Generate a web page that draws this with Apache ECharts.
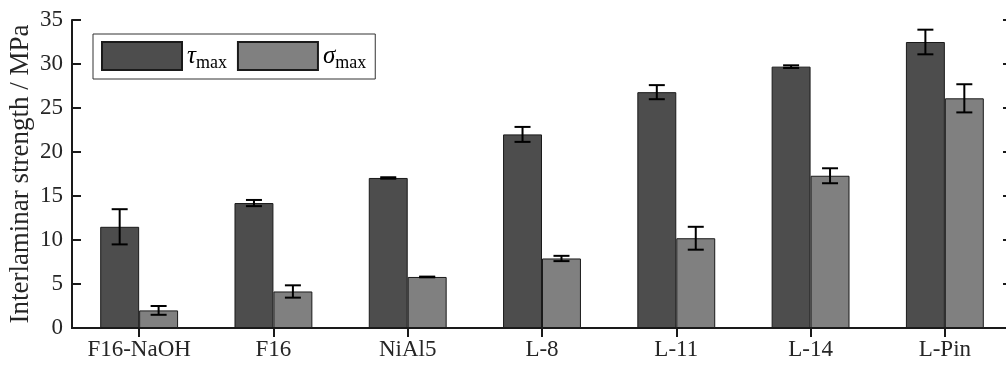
<!DOCTYPE html>
<html lang="en">
<head>
  <meta charset="UTF-8">
  <title>Interlaminar strength</title>
  <script src="https://cdn.jsdelivr.net/npm/echarts@6/dist/echarts.min.js"></script>
  <style>
    html, body { margin: 0; padding: 0; background: #fff; }
  </style>
</head>
<body>
  <div id="main" style="width: 1006px;height:367px;"></div>
  <script>
    // data
    var categories = ['F16-NaOH', 'F16', 'NiAl5', 'L-8', 'L-11', 'L-14', 'L-Pin'];
    var tauMax = [11.5, 14.2, 17.05, 22.0, 26.8, 29.7, 32.5];
    var tauErr = [2.0, 0.35, 0.08, 0.85, 0.8, 0.15, 1.4];
    var sigmaMax = [2.0, 4.15, 5.8, 7.9, 10.2, 17.3, 26.1];
    var sigmaErr = [0.5, 0.7, 0.04, 0.3, 1.3, 0.85, 1.6];

    var catGap = 0.42;
    var font = 'Liberation Serif';

    var myChart = echarts.init(document.getElementById('main'));

    // error bar for one of the two bars of a group (side -1 left, +1 right)
    function errorSeries(values, errs, side) {
      var rows = values.map(function (v, i) { return [i, v, errs[i]]; });
      return {
        type: 'custom',
        z: 10,
        silent: true,
        data: rows,
        encode: { x: 0, y: 1 },
        renderItem: function (params, api) {
          var i = api.value(0);
          var v = api.value(1);
          var e = api.value(2);
          var band = api.size([1, 0])[0];
          var barW = band * (1 - catGap) / 2;
          var top = api.coord([i, v + e]);
          var bot = api.coord([i, v - e]);
          var x = top[0] + side * barW / 2;
          var cap = 8;
          var st = { stroke: '#000', lineWidth: 2 };
          return {
            type: 'group',
            children: [
              { type: 'line', shape: { x1: x, y1: top[1], x2: x, y2: bot[1] }, style: st },
              { type: 'line', shape: { x1: x - cap, y1: top[1], x2: x + cap, y2: top[1] }, style: st },
              { type: 'line', shape: { x1: x - cap, y1: bot[1], x2: x + cap, y2: bot[1] }, style: st }
            ]
          };
        }
      };
    }

    var axisLine = { show: true, lineStyle: { color: '#1a1a1a', width: 2 } };
    var tick = { show: true, inside: true, length: 9, lineStyle: { color: '#1a1a1a', width: 2 } };
    var catTick = { show: true, inside: true, length: 9, interval: 0, alignWithLabel: true, lineStyle: { color: '#1a1a1a', width: 2 } };

    var option = {
      animation: false,
      textStyle: { fontFamily: font },
      grid: { left: 72, right: -6, top: 20, bottom: 39, containLabel: false, outerBoundsMode: 'none' },
      legend: {
        data: ['tau', 'sigma'],
        left: 93,
        top: 34,
        orient: 'horizontal',
        itemWidth: 80,
        itemHeight: 28,
        itemGap: 10,
        padding: [7, 9, 7, 8],
        borderColor: '#333',
        borderWidth: 1,
        icon: 'rect',
        selectedMode: false,
        formatter: function (name) {
          return name === 'tau' ? '{g|τ}{s|max}' : '{g|σ}{s|max}';
        },
        textStyle: {
          fontFamily: font,
          color: '#000',
          rich: {
            g: { fontFamily: font, fontStyle: 'italic', fontSize: 25, color: '#000' },
            s: { fontFamily: font, fontSize: 18, color: '#000', padding: [14, 0, 0, 0] }
          }
        }
      },
      xAxis: [
        {
          type: 'category',
          data: categories,
          axisLine: axisLine,
          axisTick: { show: false },
          axisLabel: { interval: 0, color: '#262626', fontSize: 23, fontFamily: font, margin: 10 }
        },
        {
          type: 'category',
          data: categories,
          position: 'top',
          axisLine: axisLine,
          axisTick: catTick,
          axisLabel: { show: false }
        }
      ],
      yAxis: [
        {
          type: 'value',
          min: 0,
          max: 35,
          interval: 5,
          name: 'Interlaminar strength / MPa',
          nameLocation: 'middle',
          nameGap: 38,
          nameMoveOverlap: false,
          nameTextStyle: { color: '#262626', fontSize: 27, fontFamily: font },
          axisLine: axisLine,
          axisTick: tick,
          splitLine: { show: false },
          axisLabel: { color: '#262626', fontSize: 23, fontFamily: font, margin: 9 }
        },
        {
          type: 'value',
          min: 0,
          max: 35,
          interval: 5,
          position: 'right',
          axisLine: axisLine,
          axisTick: tick,
          splitLine: { show: false },
          axisLabel: { show: false }
        }
      ],
      series: [
        {
          name: 'tau',
          type: 'bar',
          data: tauMax,
          barGap: '0%',
          barCategoryGap: (catGap * 100) + '%',
          itemStyle: { color: '#4d4d4d', borderColor: '#1a1a1a', borderWidth: 1 }
        },
        {
          name: 'sigma',
          type: 'bar',
          data: sigmaMax,
          barGap: '0%',
          barCategoryGap: (catGap * 100) + '%',
          itemStyle: { color: '#808080', borderColor: '#1a1a1a', borderWidth: 1 }
        },
        errorSeries(tauMax, tauErr, -1),
        errorSeries(sigmaMax, sigmaErr, 1)
      ]
    };

    myChart.setOption(option);
  </script>
</body>
</html>
